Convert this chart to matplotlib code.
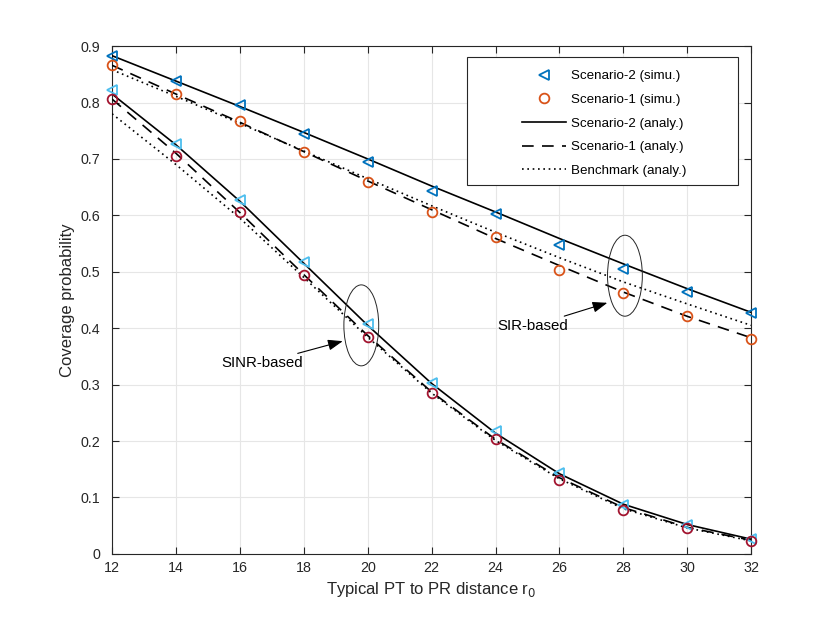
import matplotlib.pyplot as plt
from matplotlib.patches import Ellipse, Rectangle

plt.rcParams['font.family'] = ['Liberation Sans', 'DejaVu Sans']

r0 = [12, 14, 16, 18, 20, 22, 24, 26, 28, 30, 32]

# SIR-based
sir_s2_simu = [0.882, 0.838, 0.796, 0.745, 0.695, 0.643, 0.603, 0.548, 0.505, 0.465, 0.427]
sir_s1_simu = [0.866, 0.815, 0.768, 0.713, 0.659, 0.606, 0.562, 0.504, 0.462, 0.421, 0.380]
sir_s2_analy = [0.883, 0.838, 0.793, 0.747, 0.700, 0.652, 0.606, 0.559, 0.514, 0.470, 0.428]
sir_s1_analy = [0.866, 0.815, 0.765, 0.713, 0.661, 0.610, 0.559, 0.511, 0.464, 0.421, 0.383]
sir_bench = [0.858, 0.811, 0.763, 0.714, 0.665, 0.617, 0.570, 0.525, 0.482, 0.443, 0.405]

# SINR-based
sinr_s2_simu = [0.822, 0.727, 0.627, 0.518, 0.408, 0.303, 0.218, 0.144, 0.087, 0.052, 0.026]
sinr_s1_simu = [0.806, 0.706, 0.606, 0.494, 0.385, 0.285, 0.203, 0.131, 0.078, 0.045, 0.023]
sinr_s2_analy = [0.815, 0.725, 0.625, 0.515, 0.405, 0.302, 0.214, 0.142, 0.088, 0.052, 0.026]
sinr_s1_analy = [0.806, 0.710, 0.605, 0.495, 0.387, 0.287, 0.203, 0.135, 0.082, 0.047, 0.024]
sinr_bench = [0.780, 0.690, 0.595, 0.490, 0.384, 0.285, 0.201, 0.133, 0.080, 0.046, 0.023]

fig = plt.figure(figsize=(8.3, 6.23), dpi=100)
ax = fig.add_axes([0.135, 0.111, 0.77, 0.815])

lw = 1.2
dash = (0, (7, 5))
dot = (0, (1, 2.2))
ms = 7
mew = 1.3

# analytical lines
ax.plot(r0, sir_s2_analy, color='k', lw=lw, ls='-', label='Scenario-2 (analy.)', zorder=3)
ax.plot(r0, sir_s1_analy, color='k', lw=lw, ls=dash, label='Scenario-1 (analy.)', zorder=3)
ax.plot(r0, sir_bench, color='k', lw=lw, ls=dot, label='Benchmark (analy.)', zorder=3)
ax.plot(r0, sinr_s2_analy, color='k', lw=lw, ls='-', zorder=3)
ax.plot(r0, sinr_s1_analy, color='k', lw=lw, ls=dash, zorder=3)
ax.plot(r0, sinr_bench, color='k', lw=lw, ls=dot, zorder=3)

# simulation markers
ax.plot(r0, sir_s2_simu, ls='none', marker='<', ms=ms + 0.5, mfc='none', mec='#0072BD', mew=mew,
        label='Scenario-2 (simu.)', zorder=4, clip_on=False)
ax.plot(r0, sir_s1_simu, ls='none', marker='o', ms=ms, mfc='none', mec='#D95319', mew=mew,
        label='Scenario-1 (simu.)', zorder=4, clip_on=False)
ax.plot(r0, sinr_s2_simu, ls='none', marker='<', ms=ms + 0.5, mfc='none', mec='#4DBEEE', mew=mew,
        zorder=4, clip_on=False)
ax.plot(r0, sinr_s1_simu, ls='none', marker='o', ms=ms, mfc='none', mec='#A2142F', mew=mew,
        zorder=4, clip_on=False)

ax.set_xlim(12, 32)
ax.set_ylim(0, 0.9)
ax.set_xticks(r0)
ax.set_yticks([0, 0.1, 0.2, 0.3, 0.4, 0.5, 0.6, 0.7, 0.8, 0.9])
ax.set_yticklabels(['0', '0.1', '0.2', '0.3', '0.4', '0.5', '0.6', '0.7', '0.8', '0.9'])
ax.grid(True, color='#e6e6e6', lw=0.8)
ax.set_axisbelow(True)
ax.tick_params(direction='in', top=True, right=True, length=5, colors='#262626', labelsize=10.3)
ax.tick_params(axis='y', pad=8.5)
ax.tick_params(axis='x', pad=5.5)
for s in ax.spines.values():
    s.set_color('#262626')
    s.set_linewidth(0.8)

ax.set_xlabel('Typical PT to PR distance r$_0$', fontsize=12, color='#262626', labelpad=3)
ax.set_ylabel('Coverage probability', fontsize=12, color='#262626', labelpad=4)

# ellipses and annotations
ax.add_patch(Ellipse((19.8, 0.405), 1.09, 0.1435, fill=False, ec='#262626', lw=0.7, zorder=5))
ax.add_patch(Ellipse((28.05, 0.493), 1.09, 0.1435, fill=False, ec='#262626', lw=0.7, zorder=5))
arrow = dict(arrowstyle='-|>,head_length=0.6,head_width=0.22', color='k', lw=0.8,
             mutation_scale=15, shrinkA=0, shrinkB=0)
ax.annotate('SINR-based', xy=(19.22, 0.377), xytext=(17.96, 0.338), ha='right', va='center',
            fontsize=10.8, arrowprops=arrow)
ax.annotate('SIR-based', xy=(27.5, 0.445), xytext=(26.27, 0.404), ha='right', va='center',
            fontsize=10.8, arrowprops=arrow)

# legend: MATLAB-like wide box drawn by hand, entries without frame
ax.add_patch(Rectangle((0.5556, 0.7264), 0.4241, 0.2519, transform=ax.transAxes,
                       fc='white', ec='#262626', lw=0.8, zorder=6))
h, l = ax.get_legend_handles_labels()
order = [3, 4, 0, 1, 2]
leg = ax.legend([h[i] for i in order], [l[i] for i in order], loc='upper left',
                bbox_to_anchor=(0.6416, 0.953), borderaxespad=0, borderpad=0,
                frameon=False, fontsize=9.6, handlelength=3.3, handletextpad=0.4,
                labelspacing=0.85)
leg.set_zorder(7)

fig.savefig('out.png', dpi=100)
